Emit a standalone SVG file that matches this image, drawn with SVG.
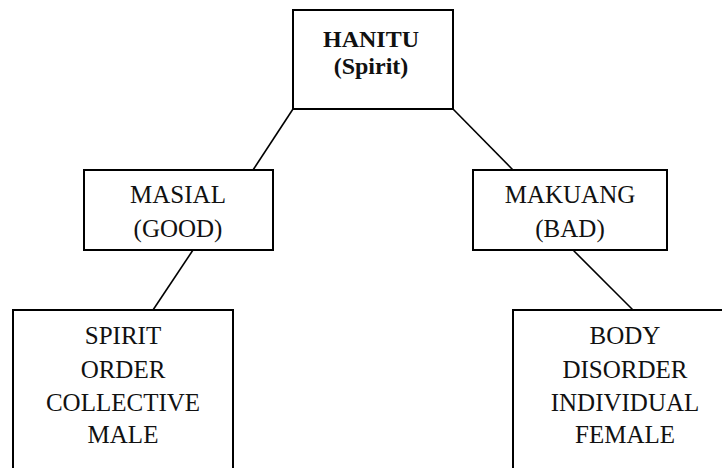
<svg xmlns="http://www.w3.org/2000/svg" width="722" height="468" viewBox="0 0 722 468">
<style>
.box{fill:#fff;stroke:#000;stroke-width:2}
.ln{stroke:#000;stroke-width:1.6;fill:none}
text{font-family:"Liberation Serif","Times New Roman",serif;font-size:25px;fill:#111;text-anchor:middle}
.b{font-weight:bold;font-size:24px}
</style>
<rect width="722" height="468" fill="#fff"/>
<g id="connectors">
<line class="ln" x1="293" y1="109" x2="253" y2="170"/>
<line class="ln" x1="453" y1="109" x2="513" y2="170"/>
<line class="ln" x1="193" y1="250" x2="153" y2="310"/>
<line class="ln" x1="573" y1="250" x2="633" y2="310"/>
</g>
<g id="hanitu">
<rect class="box" x="293" y="10" width="160" height="99"/>
<text class="b" x="371" y="47">HANITU</text>
<text class="b" x="371" y="74">(Spirit)</text>
</g>
<g id="masial">
<rect class="box" x="84" y="170" width="189" height="80"/>
<text x="178" y="203">MASIAL</text>
<text x="178" y="237">(GOOD)</text>
</g>
<g id="makuang">
<rect class="box" x="473" y="170" width="194" height="80"/>
<text x="570" y="203">MAKUANG</text>
<text x="570" y="237">(BAD)</text>
</g>
<g id="spirit">
<rect class="box" x="13" y="310" width="220" height="180"/>
<text x="123" y="344">SPIRIT</text>
<text x="123" y="378">ORDER</text>
<text x="123" y="411">COLLECTIVE</text>
<text x="123" y="443">MALE</text>
</g>
<g id="body">
<rect class="box" x="513" y="310" width="224" height="180"/>
<text x="625" y="344">BODY</text>
<text x="625" y="378">DISORDER</text>
<text x="625" y="411">INDIVIDUAL</text>
<text x="625" y="443">FEMALE</text>
</g>
</svg>
